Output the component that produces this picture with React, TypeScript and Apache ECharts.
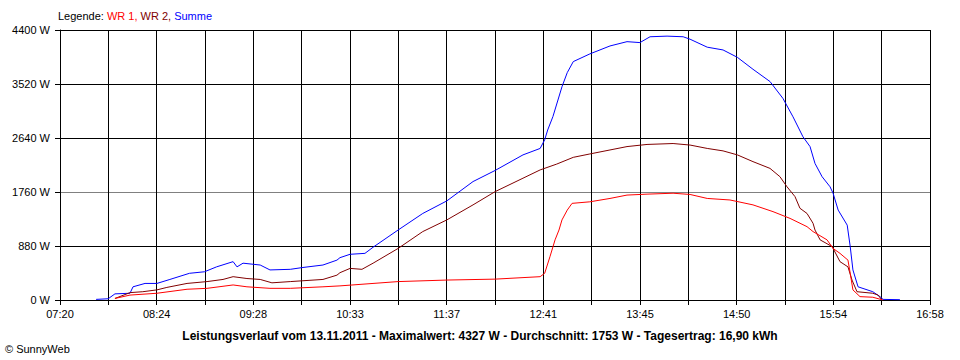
import React, { useEffect, useRef } from "react";
import * as echarts from "echarts";

// time in minutes after midnight, power in W
const START = 440; // 07:20
const END = 1018; // 16:58
const SUB = 9; // axis units per minute (578 min = 18 * 289/9)
const STEP = 289; // one grid step in axis units

const yTicks = [0, 880, 1760, 2640, 3520, 4400];

const summeT = [464, 472, 476.5, 486.5, 488.5, 496.5, 504.4, 513, 526, 536, 544, 555, 557.6, 561.6, 573, 579.5, 593, 601.4, 614.7, 624, 626, 632.7, 642.6, 648, 664.6, 681, 697, 714.4, 729, 747.6, 759, 762, 764, 767.5, 773.5, 777, 781, 792, 805.4, 816.7, 825.3, 832, 843.3, 854, 858.6, 870, 880.5, 890, 900.4, 911.7, 920.3, 927, 933.6, 938.3, 941.6, 946.3, 951.6, 953.6, 957, 963, 965, 966.8, 970.2, 980, 984.8, 986.8, 998];
const summeW = [10, 20, 100, 110, 215, 270, 270, 335, 435, 460, 540, 625, 540, 600, 570, 490, 500, 530, 570, 650, 690, 745, 760, 860, 1140, 1410, 1615, 1930, 2110, 2365, 2470, 2610, 2770, 2990, 3475, 3705, 3885, 4010, 4140, 4210, 4195, 4290, 4300, 4290, 4250, 4120, 4075, 3955, 3760, 3560, 3285, 2985, 2660, 2500, 2225, 2010, 1845, 1740, 1465, 1220, 870, 490, 215, 135, 55, 10, 5];

const wr2T = [476.5, 486.5, 495, 504.4, 511, 524.4, 537.7, 548.3, 555, 564.2, 573, 580.8, 593, 614.7, 624, 626, 632.7, 640.6, 648, 664.6, 681, 697, 714.4, 729, 747.6, 759, 770, 781, 792, 805.4, 816.7, 830, 847.3, 858.6, 870, 880.5, 890, 900.4, 911.7, 918.3, 923, 928.3, 931.6, 936.3, 940.3, 941.6, 945, 953, 958.2, 963.5, 966.2, 969.5, 980, 983.5, 986];
const wr2W = [25, 120, 135, 165, 205, 270, 300, 335, 380, 350, 335, 280, 300, 335, 405, 445, 515, 500, 600, 840, 1115, 1305, 1550, 1765, 1985, 2120, 2215, 2325, 2380, 2445, 2500, 2535, 2550, 2525, 2470, 2430, 2365, 2255, 2145, 2010, 1845, 1685, 1495, 1410, 1250, 1140, 980, 870, 625, 540, 325, 135, 110, 80, 0];

const wr1T = [476.5, 486.5, 504.4, 524.4, 537.7, 555, 564.2, 579.5, 593, 614.7, 626, 664.6, 697, 729, 759, 762, 765.5, 768.9, 771.5, 773.5, 777, 780.2, 792, 805.4, 816.7, 830, 847.3, 858.6, 870, 885.1, 900.4, 913.7, 925, 936.3, 940.3, 949.6, 953.6, 958.2, 963.5, 965, 966.8, 971.5, 980, 986.8];
const wr1W = [25, 80, 110, 175, 190, 245, 215, 190, 190, 215, 230, 300, 325, 340, 380, 435, 705, 980, 1140, 1305, 1465, 1575, 1600, 1655, 1710, 1725, 1740, 1720, 1655, 1630, 1550, 1440, 1330, 1195, 1115, 980, 840, 760, 650, 435, 165, 55, 45, 0];

const FONT = "'Liberation Sans', Arial, sans-serif";

function toPoints(ts: number[], ws: number[]) {
  return ts.map((t, i) => [(t - START) * SUB, ws[i]]);
}

function fmtTime(m: number) {
  const mm = Math.round(m);
  const h = Math.floor(mm / 60);
  const mi = mm % 60;
  return (h < 10 ? "0" : "") + h + ":" + (mi < 10 ? "0" : "") + mi;
}

export default function App() {
  const ref = useRef<HTMLDivElement>(null);
  useEffect(() => {
    if (!ref.current) return;
    const chart = echarts.init(ref.current, null, { renderer: "svg" });
    const lineSeries = (name: string, color: string, data: number[][]) => ({
      name,
      type: "line",
      data,
      showSymbol: false,
      symbol: "none",
      lineStyle: { color, width: 1 },
      itemStyle: { color },
      z: 3,
    });
    chart.setOption({
      animation: false,
      backgroundColor: "#ffffff",
      textStyle: { fontFamily: FONT },
      title: [
        {
          text: "{a|Legende: }{b|WR 1, }{c|WR 2, }{d|Summe}",
          left: 58,
          top: 10,
          padding: 0,
          textStyle: {
            fontFamily: FONT,
            fontSize: 11,
            fontWeight: "normal",
            rich: {
              a: { color: "#000000", fontSize: 11, fontFamily: FONT },
              b: { color: "#ff0000", fontSize: 11, fontFamily: FONT },
              c: { color: "#800000", fontSize: 11, fontFamily: FONT },
              d: { color: "#0000ff", fontSize: 11, fontFamily: FONT },
            },
          },
        },
        {
          text: "Leistungsverlauf vom 13.11.2011 - Maximalwert: 4327 W - Durchschnitt: 1753 W - Tagesertrag: 16,90 kWh",
          left: "center",
          top: 330,
          padding: 0,
          textStyle: { fontFamily: FONT, fontSize: 12, fontWeight: "bold", color: "#000000" },
        },
        {
          text: "© SunnyWeb",
          left: 5,
          top: 343,
          padding: 0,
          textStyle: { fontFamily: FONT, fontSize: 11, fontWeight: "normal", color: "#000000" },
        },
      ],
      grid: { left: 60, right: 30, top: 30, bottom: 60, containLabel: false },
      xAxis: {
        type: "value",
        min: 0,
        max: (END - START) * SUB,
        interval: STEP,
        axisLine: { show: true, lineStyle: { color: "#000000", width: 1 } },
        axisTick: { show: true, length: 5, inside: false, lineStyle: { color: "#000000" } },
        splitLine: { show: true, lineStyle: { color: "#000000", width: 1 } },
        axisLabel: {
          show: true,
          margin: 8,
          color: "#000000",
          fontSize: 11,
          fontFamily: FONT,
          showMinLabel: true,
          showMaxLabel: true,
          hideOverlap: false,
          formatter: (v: number) => {
            const k = Math.round(v / STEP);
            if (k % 2 !== 0) return "";
            return fmtTime(START + v / SUB);
          },
        },
      },
      yAxis: {
        type: "value",
        min: yTicks[0],
        max: yTicks[yTicks.length - 1],
        interval: yTicks[1] - yTicks[0],
        axisLine: { show: true, lineStyle: { color: "#000000", width: 1 } },
        axisTick: { show: true, length: 5, lineStyle: { color: "#000000" } },
        splitLine: {
          show: true,
          lineStyle: { color: ["#000000", "#000000", "#808080", "#000000", "#000000", "#000000"], width: 1 },
        },
        axisLabel: {
          margin: 10,
          color: "#000000",
          fontSize: 11,
          fontFamily: FONT,
          formatter: (v: number) => v + " W",
        },
      },
      series: [
        lineSeries("Summe", "#0000ff", toPoints(summeT, summeW)),
        lineSeries("WR 2", "#800000", toPoints(wr2T, wr2W)),
        lineSeries("WR 1", "#ff0000", toPoints(wr1T, wr1W)),
      ],
    });
    return () => chart.dispose();
  }, []);
  return (
    <div
      ref={ref}
      style={{ position: "fixed", left: 0, top: 0, width: 960, height: 360, background: "#fff" }}
    />
  );
}
